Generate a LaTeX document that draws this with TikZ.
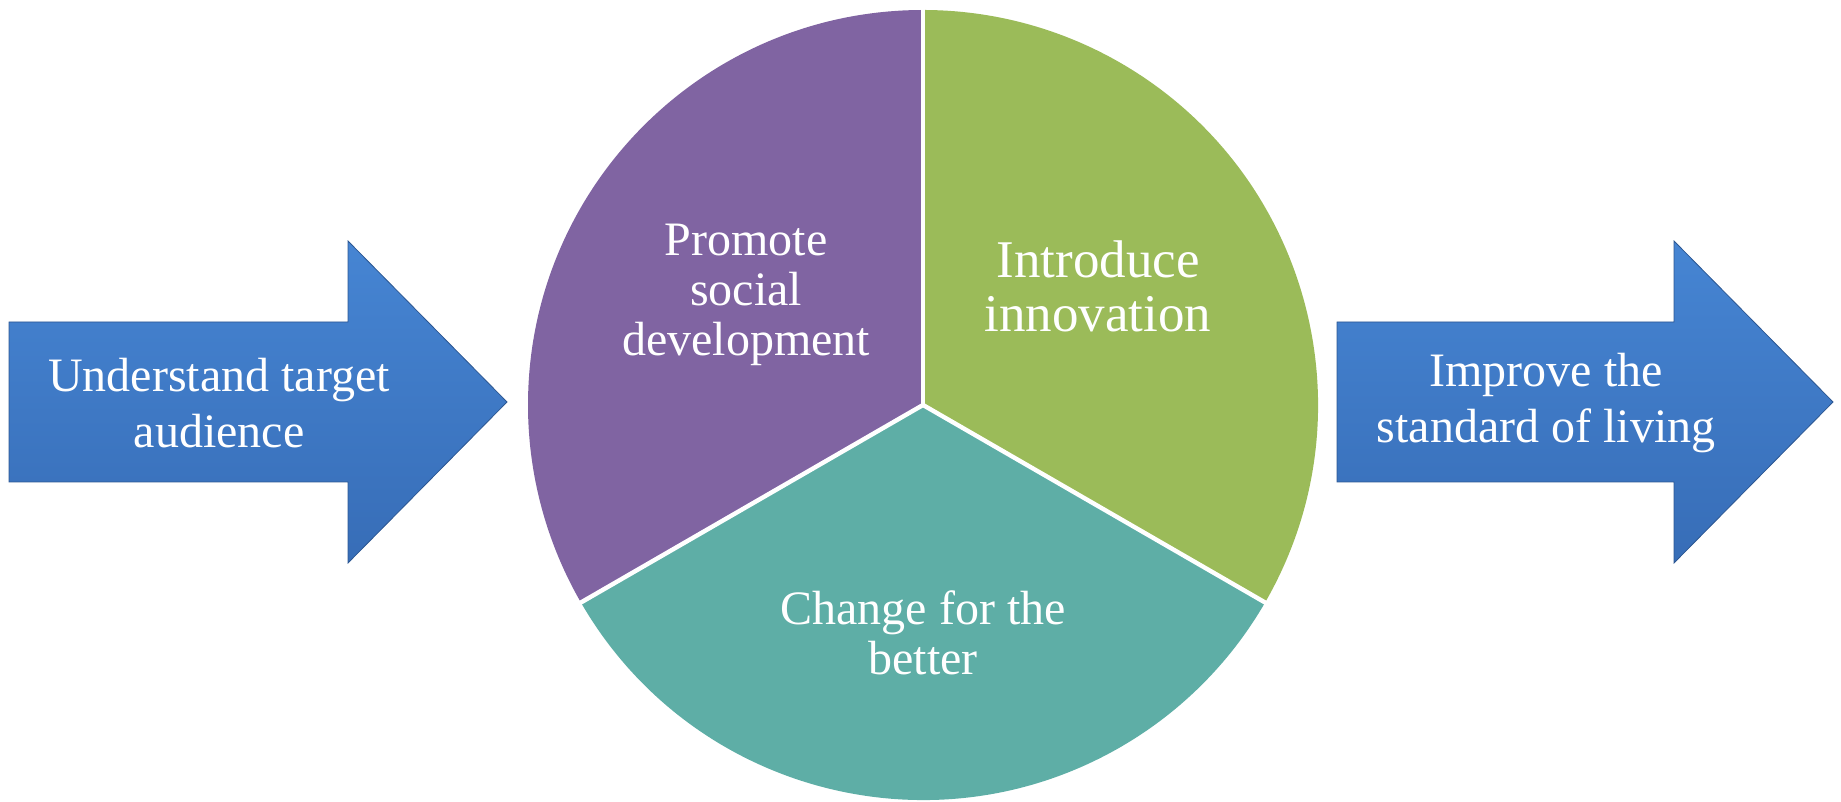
\documentclass[tikz,border=0pt]{standalone}
\usepackage{fontspec}
\setmainfont{Liberation Serif}
\definecolor{arrowtop}{HTML}{4685D3}
\definecolor{arrowbot}{HTML}{376DB7}
\definecolor{slicepurple}{HTML}{8064A2}
\definecolor{slicegreen}{HTML}{9BBB59}
\definecolor{sliceteal}{HTML}{5EAEA6}
\tikzset{
  bigarrow/.style={top color=arrowtop, bottom color=arrowbot, draw=arrowbot!80!black, line width=0.4pt},
  slice/.style={draw=white, line width=2.2pt},
  label/.style={text=white, font=\fontsize{24}{28}\selectfont, align=center},
}
\begin{document}
\begin{tikzpicture}[x=0.5pt, y=0.5pt]
    \useasboundingbox (0,0) rectangle (1841,802);

    % arrows
    \draw[bigarrow] (9,320) -- (348,320) -- (348,239) -- (507,400) -- (348,561) -- (348,480) -- (9,480) -- cycle;
    \draw[bigarrow] (1337,320) -- (1674,320) -- (1674,239) -- (1833,400) -- (1674,561) -- (1674,480) -- (1337,480) -- cycle;
    \node[label] (left) at (219,399) {Understand target\\audience};
    \node[label] (right) at (1546,399) {Improve the\\standard of living};

    % pie
    \coordinate (c) at (923,397);
    \fill[slicepurple] (c) -- ++(90:395) arc (90:210:395) -- cycle;
    \fill[slicegreen] (c) -- ++(-30:395) arc (-30:90:395) -- cycle;
    \fill[sliceteal] (c) -- ++(210:395) arc (210:330:395) -- cycle;
    \draw[slice] (c) -- ++(90:396);
    \draw[slice] (c) -- ++(210:396);
    \draw[slice] (c) -- ++(330:396);

    \node[label, font=\fontsize{24}{25}\selectfont] (promote) at (746,507) {Promote\\social\\development};
    \node[label, font=\fontsize{26.5}{27}\selectfont] (introduce) at (1098,516) {Introduce\\innovation};
    \node[label, font=\fontsize{24}{25}\selectfont] (change) at (923,169) {Change for the\\better};
\end{tikzpicture}
\end{document}
